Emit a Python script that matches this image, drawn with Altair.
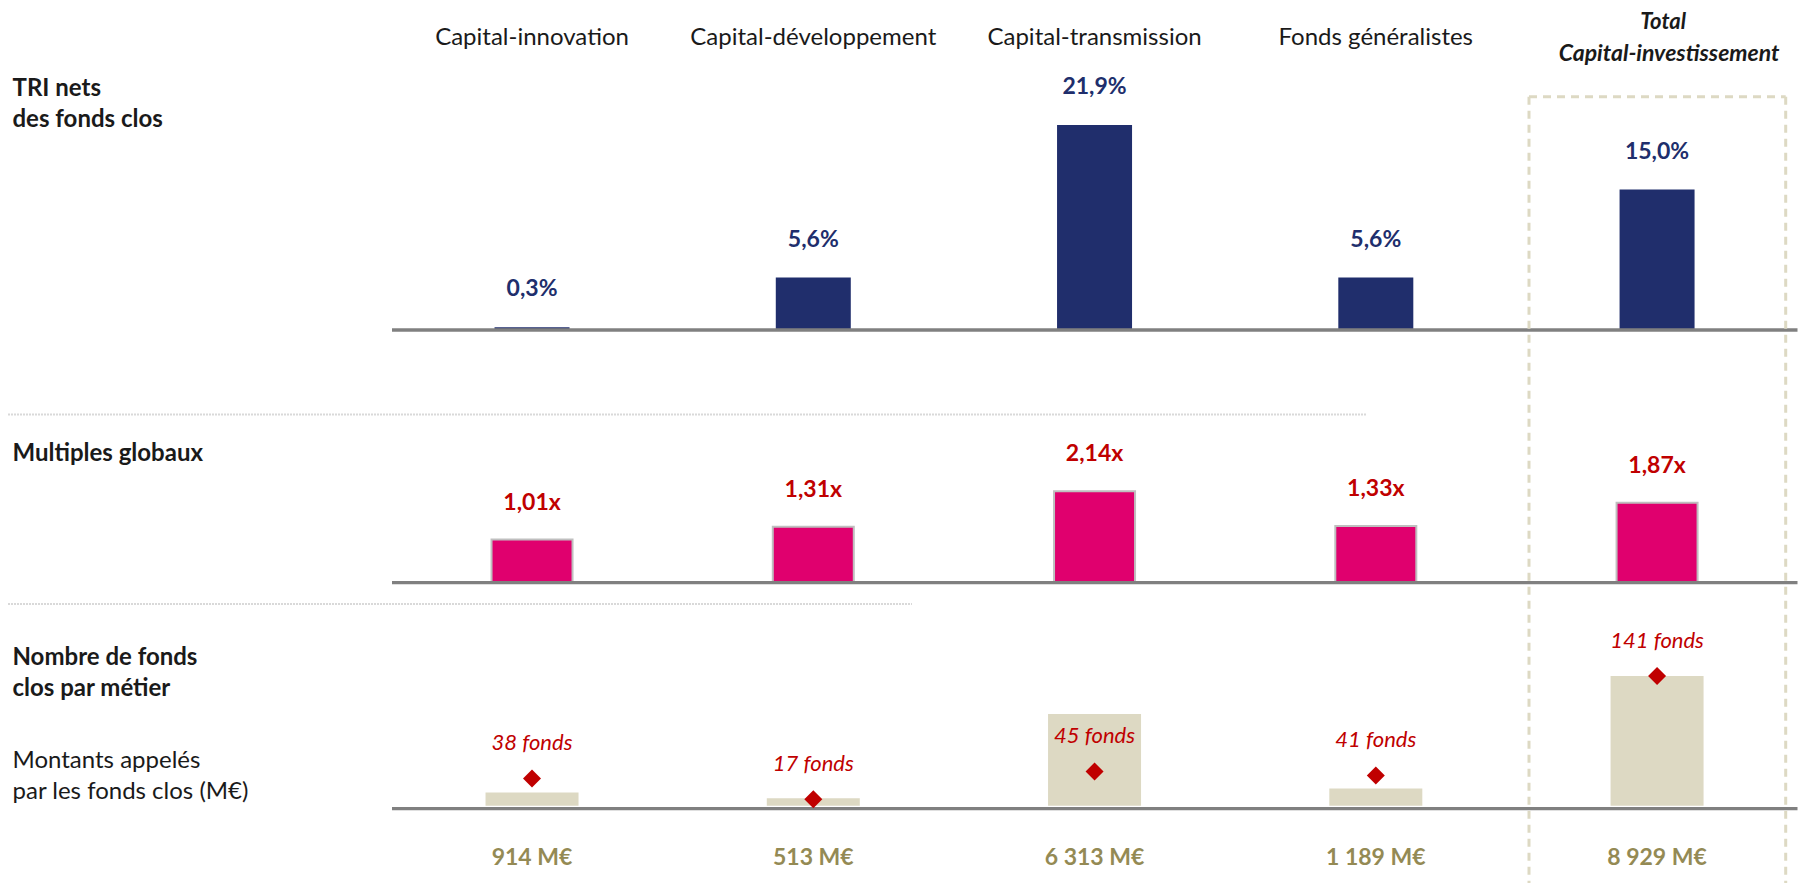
import altair as alt
import pandas as pd

# ---------------- data ----------------
categories = ["Capital-innovation", "Capital-développement", "Capital-transmission",
              "Fonds généralistes", "Total Capital-investissement"]
header_labels = ["Capital-innovation", "Capital-développement", "Capital-transmission",
                 "Fonds généralistes"]
tri_values = [0.3, 5.6, 21.9, 5.6, 15.0]
tri_labels = ["0,3%", "5,6%", "21,9%", "5,6%", "15,0%"]
multiple_values = [1.01, 1.31, 2.14, 1.33, 1.87]
multiple_labels = ["1,01x", "1,31x", "2,14x", "1,33x", "1,87x"]
fund_counts = [38, 17, 45, 41, 141]
fund_labels = ["38 fonds", "17 fonds", "45 fonds", "41 fonds", "141 fonds"]
amounts = [914, 513, 6313, 1189, 8929]
amount_labels = ["914 M€", "513 M€", "6 313 M€", "1 189 M€", "8 929 M€"]

df = pd.DataFrame({
    "cat": categories,
    "tri": tri_values, "tri_lab": tri_labels,
    "mult": multiple_values, "mult_lab": multiple_labels,
    "funds": fund_counts, "funds_lab": fund_labels,
    "amount": amounts, "amount_lab": amount_labels,
})
headers = pd.DataFrame({"cat": header_labels})
total_df = pd.DataFrame({"cat": [categories[-1]], "l1": ["Total"], "l2": ["Capital-investissement"]})

# ---------------- styles ----------------
FONT = "Lato"
DARK = "#1a1a1a"
NAVY = "#202E6C"
PINK = "#E0006E"
RED = "#C00000"
BEIGE = "#DDD9C3"
OLIVE = "#948A54"
GREY = "#808080"

X = alt.X("cat:N", sort=categories,
          scale=alt.Scale(domain=categories, range=[383.4, 1789.7], paddingInner=0, paddingOuter=0),
          axis=None)

def yq(field, domain, rng):
    return alt.Y(field, scale=alt.Scale(domain=domain, range=rng, nice=False, zero=False), axis=None)

one = pd.DataFrame({"a": [0]})

def hrule(x1, x2, y, color, width, dash=None):
    kw = dict(color=color, strokeWidth=width)
    if dash:
        kw["strokeDash"] = dash
    return alt.Chart(one).mark_rule(**kw).encode(x=alt.value(x1), x2=alt.value(x2), y=alt.value(y))

def vrule(x, y1, y2, color, width, dash=None):
    kw = dict(color=color, strokeWidth=width)
    if dash:
        kw["strokeDash"] = dash
    return alt.Chart(one).mark_rule(**kw).encode(x=alt.value(x), y=alt.value(y1), y2=alt.value(y2))

def note(text, x, y, size=24, weight="normal", style="normal", color=DARK):
    return alt.Chart(pd.DataFrame({"t": [text]})).mark_text(
        font=FONT, fontSize=size, fontWeight=weight, fontStyle=style,
        align="left", baseline="middle", color=color
    ).encode(x=alt.value(x), y=alt.value(y), text="t:N")

base = alt.Chart(df)

# panel 1 : TRI
tri_y = yq("tri:Q", [0, 21.9], [322, 117])
tri_bars = base.mark_bar(size=75, color=NAVY).encode(x=X, y=tri_y, y2=alt.value(322))
tri_text = base.mark_text(font=FONT, fontSize=23, fontWeight="bold", color=NAVY,
                          baseline="middle", dy=-38).encode(x=X, y=tri_y, text="tri_lab:N")

# panel 2 : multiples
mult_y = yq("mult:Q", [0, 2.14], [574.7, 483.3])
mult_bars = base.mark_bar(size=81, color=PINK, stroke="#BFBFBF", strokeWidth=2).encode(
    x=X, y=mult_y, y2=alt.value(574.7))
mult_text = base.mark_text(font=FONT, fontSize=23, fontWeight="bold", color=RED,
                           baseline="middle", dy=-37).encode(x=X, y=mult_y, text="mult_lab:N")

# panel 3 : amounts + number of funds
amt_y = yq("amount:Q", [-203, 8929], [800.7, 668])
amt_bars = base.mark_bar(size=93, color=BEIGE).encode(x=X, y=amt_y, y2=alt.value(800.7))
fund_y = yq("funds:Q", [7.55, 141], [800.7, 668])
fund_pts = base.mark_point(shape="diamond", filled=True, size=324, color=RED, opacity=1).encode(
    x=X, y=fund_y)
fund_text = base.mark_text(font=FONT, fontSize=22, fontStyle="italic", color=RED,
                           baseline="middle", dy=-35).encode(x=X, y=fund_y, text="funds_lab:N")
amt_text = base.mark_text(font=FONT, fontSize=23, fontWeight="bold", color=OLIVE,
                          baseline="middle").encode(x=X, y=alt.value(849.7), text="amount_lab:N")

# headers
head_text = alt.Chart(headers).mark_text(font=FONT, fontSize=24, color=DARK, baseline="middle").encode(
    x=X, y=alt.value(30), text="cat:N")
total1 = alt.Chart(total_df).mark_text(font=FONT, fontSize=22, fontWeight="bold", fontStyle="italic",
                                       color=DARK, baseline="middle", dx=6).encode(
    x=X, y=alt.value(14), text="l1:N")
total2 = alt.Chart(total_df).mark_text(font=FONT, fontSize=23, fontWeight="bold", fontStyle="italic",
                                       color=DARK, baseline="middle", dx=12).encode(
    x=X, y=alt.value(46), text="l2:N")

# decorations
sep1 = hrule(0, 1358, 406.5, "#D9D9D9", 2, [2, 1])
sep2 = hrule(0, 904, 596, "#D9D9D9", 2, [2, 1])
base1 = hrule(384, 1789.5, 322, GREY, 3.3)
base2 = hrule(384, 1789.5, 574.7, GREY, 3.3)
base3 = hrule(384, 1789.5, 800.7, GREY, 3.3)
box_top = hrule(1521, 1777.7, 88.7, BEIGE, 3, [8, 6])
box_left = vrule(1521, 88.7, 875, BEIGE, 3, [8, 6])
box_right = vrule(1777.7, 88.7, 875, BEIGE, 3, [8, 6])

labels = [
    note("TRI nets", 4.5, 81, weight="bold"),
    note("des fonds clos", 4.5, 112, weight="bold"),
    note("Multiples globaux", 4.5, 446, weight="bold"),
    note("Nombre de fonds", 4.5, 650, weight="bold"),
    note("clos par métier", 4.5, 681, weight="bold"),
    note("Montants appelés", 4.5, 753),
    note("par les fonds clos (M€)", 4.5, 784),
]

chart = alt.layer(
    sep1, sep2,
    tri_bars, mult_bars, amt_bars,
    base1, base2, base3,
    box_top, box_left, box_right,
    fund_pts,
    tri_text, mult_text, fund_text, amt_text,
    head_text, total1, total2,
    *labels,
).resolve_scale(y="independent").properties(
    width=1798, height=875,
    autosize=alt.AutoSizeParams(type="none"),
    padding=0,
).configure_view(stroke=None)

chart.save("out.html", embed_options={"renderer": "svg", "actions": False})
